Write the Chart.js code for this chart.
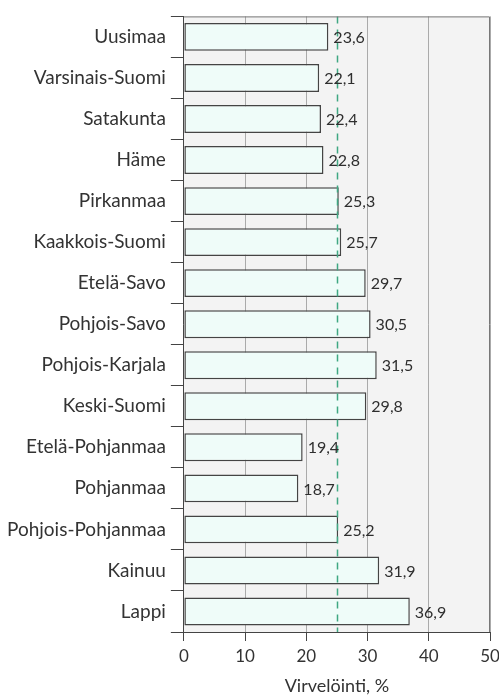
<!DOCTYPE html>
<html>
<head>
  <meta charset="utf-8">
  <title>Virvelöinti</title>
  <script src="https://cdn.jsdelivr.net/npm/chart.js"></script>
  <style>
    body {
      margin: 0;
      background: #fff;
    }
    #wrap {
      width: 499px;
      height: 697px;
    }
  </style>
</head>
<body>
  <div id="wrap"><canvas id="chart"></canvas></div>

  <script>
    const regions = ["Uusimaa", "Varsinais-Suomi", "Satakunta", "Häme", "Pirkanmaa",
      "Kaakkois-Suomi", "Etelä-Savo", "Pohjois-Savo", "Pohjois-Karjala", "Keski-Suomi",
      "Etelä-Pohjanmaa", "Pohjanmaa", "Pohjois-Pohjanmaa", "Kainuu", "Lappi"];
    const values = [23.6, 22.1, 22.4, 22.8, 25.3, 25.7, 29.7, 30.5, 31.5, 29.8,
      19.4, 18.7, 25.2, 31.9, 36.9];
    const xTicks = [0, 10, 20, 30, 40, 50];
    const average = 25;

    const FONT = "Lato, 'DejaVu Sans', sans-serif";

    // grey plot background + top/right frame
    const plotBg = {
      id: 'plotBg',
      beforeDraw(chart) {
        const { ctx, chartArea: a } = chart;
        ctx.save();
        ctx.fillStyle = '#f3f3f3';
        ctx.fillRect(a.left, a.top, a.right - a.left, a.bottom - a.top);
        ctx.restore();
      },
      afterDraw(chart) {
        const { ctx, chartArea: a } = chart;
        ctx.save();
        ctx.strokeStyle = '#777';
        ctx.lineWidth = 1;
        ctx.beginPath();
        ctx.moveTo(a.left, a.top + 0.5);
        ctx.lineTo(a.right - 0.5, a.top + 0.5);
        ctx.lineTo(a.right - 0.5, a.bottom);
        ctx.stroke();
        ctx.restore();
      }
    };

    // dashed reference line at the national level
    const refLine = {
      id: 'refLine',
      afterDatasetsDraw(chart) {
        const { ctx, chartArea: a, scales } = chart;
        const x = Math.round(scales.x.getPixelForValue(average)) + 0.5;
        ctx.save();
        ctx.strokeStyle = '#3fa782';
        ctx.lineWidth = 1.5;
        ctx.setLineDash([7, 6]);
        ctx.beginPath();
        ctx.moveTo(x, a.top);
        ctx.lineTo(x, a.bottom);
        ctx.stroke();
        ctx.restore();
      }
    };

    // value labels after each bar, Finnish decimal comma
    const valueLabels = {
      id: 'valueLabels',
      afterDatasetsDraw(chart) {
        const { ctx } = chart;
        const meta = chart.getDatasetMeta(0);
        ctx.save();
        ctx.font = '16px ' + FONT;
        ctx.fillStyle = '#2e2e2e';
        ctx.textBaseline = 'middle';
        meta.data.forEach((bar, i) => {
          ctx.fillText(values[i].toFixed(1).replace('.', ','), bar.x + 5, bar.y + 1);
        });
        ctx.restore();
      }
    };

    new Chart(document.getElementById('chart'), {
      type: 'bar',
      data: {
        labels: regions,
        datasets: [{
          data: values,
          backgroundColor: '#effcf9',
          borderColor: '#444',
          borderWidth: 1.5,
          borderSkipped: false,
          barPercentage: 0.68,
          categoryPercentage: 1
        }]
      },
      options: {
        indexAxis: 'y',
        responsive: true,
        maintainAspectRatio: false,
        animation: false,
        layout: { padding: { top: 10, right: 9, bottom: 0, left: 2 } },
        plugins: {
          legend: { display: false },
          tooltip: { enabled: false }
        },
        scales: {
          x: {
            min: 0,
            max: 50,
            afterBuildTicks(axis) {
              axis.ticks = xTicks.map(v => ({ value: v }));
            },
            afterFit(axis) {
              // let the "50" label run to the page edge like the original
              axis.paddingRight = 0;
            },
            border: { color: '#444', width: 1 },
            grid: { color: '#aaa', tickColor: '#444', tickLength: 9 },
            ticks: { color: '#333', font: { family: FONT, size: 17 }, padding: 5 },
            title: {
              display: true,
              text: 'Virvelöinti, %',
              color: '#333',
              font: { family: FONT, size: 18 },
              padding: { top: 4, bottom: 0 }
            }
          },
          y: {
            border: { color: '#444', width: 1 },
            grid: { offset: true, drawOnChartArea: false, tickColor: '#444', tickLength: 13 },
            ticks: { color: '#333', font: { family: FONT, size: 19 }, padding: 5 }
          }
        }
      },
      plugins: [plotBg, refLine, valueLabels]
    });
  </script>
</body>
</html>
